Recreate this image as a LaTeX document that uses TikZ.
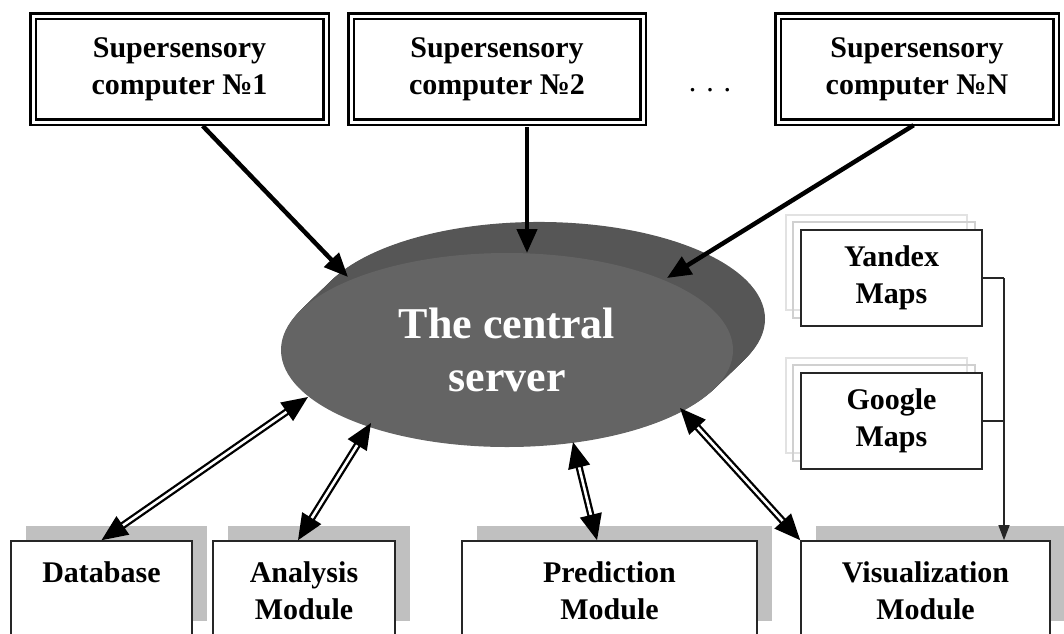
\documentclass[tikz,border=0pt]{standalone}
\usepackage{fontspec}
\setmainfont{Liberation Serif}
\usetikzlibrary{arrows.meta,shapes.geometric,calc,shadows}

\definecolor{srvfront}{HTML}{646464}
\definecolor{srvback}{HTML}{565656}
\definecolor{boxshade}{HTML}{C0C0C0}
\definecolor{ghostout}{HTML}{E2E2E2}
\definecolor{ghostin}{HTML}{D0D0D0}

\begin{document}
\begin{tikzpicture}[x=1pt,y=-1pt,
  txt/.style={font=\fontsize{30}{37}\selectfont\bfseries, align=center},
  pcbox/.style={draw, double=white, line width=2.2pt, double distance=3pt,
    minimum height=106pt, inner sep=0pt, txt},
  modbox/.style={draw=black!85, line width=1.6pt, fill=white, inner sep=0pt,
    minimum height=95pt,
    drop shadow={shadow xshift=15pt, shadow yshift=15pt, opacity=1, fill=boxshade}},
  mapbox/.style={draw=black!85, line width=1.6pt, fill=white, inner sep=0pt,
    minimum width=181pt, minimum height=96pt, txt},
  modlabel/.style={txt, anchor=north, inner sep=0pt},
  feed/.style={line width=4.5pt, -{Triangle[length=24pt,width=20pt]}},
  link/.style={draw, double=white, line width=2.3pt, double distance=2.6pt,
    {Triangle[length=26pt,width=22pt]}-{Triangle[length=26pt,width=22pt]}},
  bus/.style={line width=1.5pt, draw=black!85}
]
\useasboundingbox (0,0) rectangle (1064,633);
\clip (0,0) rectangle (1064,633);

% supersensory computers
\node[pcbox, minimum width=293pt] (pc1) at (179.5,69) {Supersensory\\computer №1};
\node[pcbox, minimum width=292pt] (pc2) at (497,69) {Supersensory\\computer №2};
\node[pcbox, minimum width=278pt] (pcn) at (917,69) {Supersensory\\computer №N};
\node[font=\fontsize{30}{37}\selectfont, anchor=base, inner sep=0pt] (dots) at (710,91) {. . .};

% central server: extruded disk
\foreach \t in {32,31,...,1}
  \fill[srvback] (507+\t, 350-\t*0.97) ellipse [x radius=226, y radius=97];
\node[ellipse, fill=srvfront, minimum width=452pt, minimum height=194pt,
  inner sep=0pt, text=white, font=\fontsize{44}{53}\selectfont\bfseries,
  align=center] (srv) at (507,350) {The central\\server};

% contact points on the server disk
\coordinate (in1) at (348,277);
\coordinate (in2) at (527,253);
\coordinate (in3) at (667,278);
\coordinate (s1) at (308,397);
\coordinate (s2) at (371,423);
\coordinate (s3) at (573,442);
\coordinate (s4) at (680,408);

% data flow from the computers
\draw[feed, shorten <=4pt] ([xshift=20.5pt]pc1.south) -- (in1);
\draw[feed, shorten <=4pt] ([xshift=30pt]pc2.south) -- (in2);
\draw[feed, shorten <=4pt] (pcn.south) -- (in3);

% modules
\node[modbox, minimum width=181pt] (db) at (101.5,588.5) {};
\node[modbox, minimum width=182pt] (an) at (304,588.5) {};
\node[modbox, minimum width=295pt] (pr) at (609.5,588.5) {};
\node[modbox, minimum width=249pt] (vz) at (925.5,588.5) {};
\node[modlabel] (dbt) at ($(db.north)+(0,21)$) {Database};
\node[modlabel] (ant) at ($(an.north)+(0,21)$) {Analysis\\Module};
\node[modlabel] (prt) at ($(pr.north)+(0,21)$) {Prediction\\Module};
\node[modlabel] (vzt) at ($(vz.north)+(0,21)$) {Visualization\\Module};

% map services
\foreach \c/\n in {391/ya, 534/go}{
  \draw[ghostout, line width=1.4pt] (786,\c-176) rectangle (967,\c-81);
  \draw[ghostin, line width=1.4pt] (793,\c-169) rectangle (975,\c-73);
}
\node[mapbox] (ya) at (891.5,278) {Yandex\\Maps};
\node[mapbox] (go) at (891.5,421) {Google\\Maps};

% two-way links between server and modules
\draw[link] (db.north) -- (s1);
\draw[link] ([xshift=-6pt]an.north) -- (s2);
\draw[link] ([xshift=-12.5pt]pr.north) -- (s3);
\draw[link] (vz.north west) -- (s4);

% map data into the visualization module
\coordinate (junc) at (1004,278);
\draw[bus] (ya.east) -- (junc);
\draw[bus] (go.east) -- (go.east -| junc);
\draw[bus, -{Triangle[length=15pt,width=11pt]}] (junc) -- (junc |- vz.north);
\end{tikzpicture}
\end{document}
